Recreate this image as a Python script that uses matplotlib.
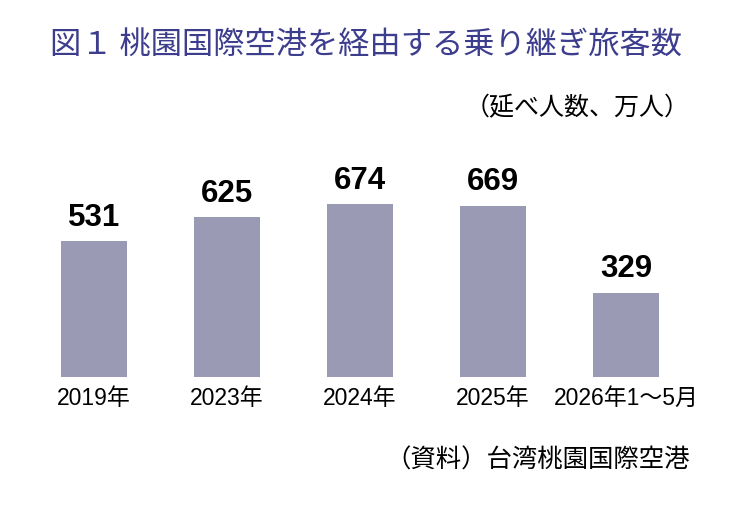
import matplotlib.pyplot as plt

plt.rcParams['font.family'] = ['Noto Sans CJK JP', 'DejaVu Sans']

categories = ['2019年', '2023年', '2024年', '2025年', '2026年1～5月']
values = [531, 625, 674, 669, 329]

W, H = 746, 516
fig = plt.figure(figsize=(W / 100, H / 100), dpi=100)

# axes placed so bars land where they are in the reference
ax = fig.add_axes([27.5 / W, 139 / H, 665 / W, 205 / H])
ax.bar(range(len(values)), values, width=0.5, color='#9a9ab4')
ax.set_xlim(-0.5, 4.5)
ax.set_ylim(0, 800)
ax.axis('off')

num_font = ['Liberation Sans', 'Noto Sans CJK JP']
for i, v in enumerate(values):
    ax.annotate(str(v), (i, v), xytext=(0, 6), textcoords='offset points',
                ha='center', va='bottom', fontsize=22.5, fontweight='bold',
                family=num_font)
    ax.annotate(categories[i], (i, 0), xytext=(0, -7), textcoords='offset points',
                ha='center', va='top', fontsize=16.5, family=num_font)

fig.text(50 / W, 1 - 45 / H, '図１ 桃園国際空港を経由する乗り継ぎ旅客数',
         fontsize=22.5, color='#3d3d8e', ha='left', va='center')
fig.text(690 / W, 1 - 108 / H, '（延べ人数、万人）', fontsize=18,
         ha='right', va='center')
fig.text(690 / W, 1 - 461 / H, '（資料）台湾桃園国際空港', fontsize=18.3,
         ha='right', va='center')

fig.savefig('out.png', dpi=100)
